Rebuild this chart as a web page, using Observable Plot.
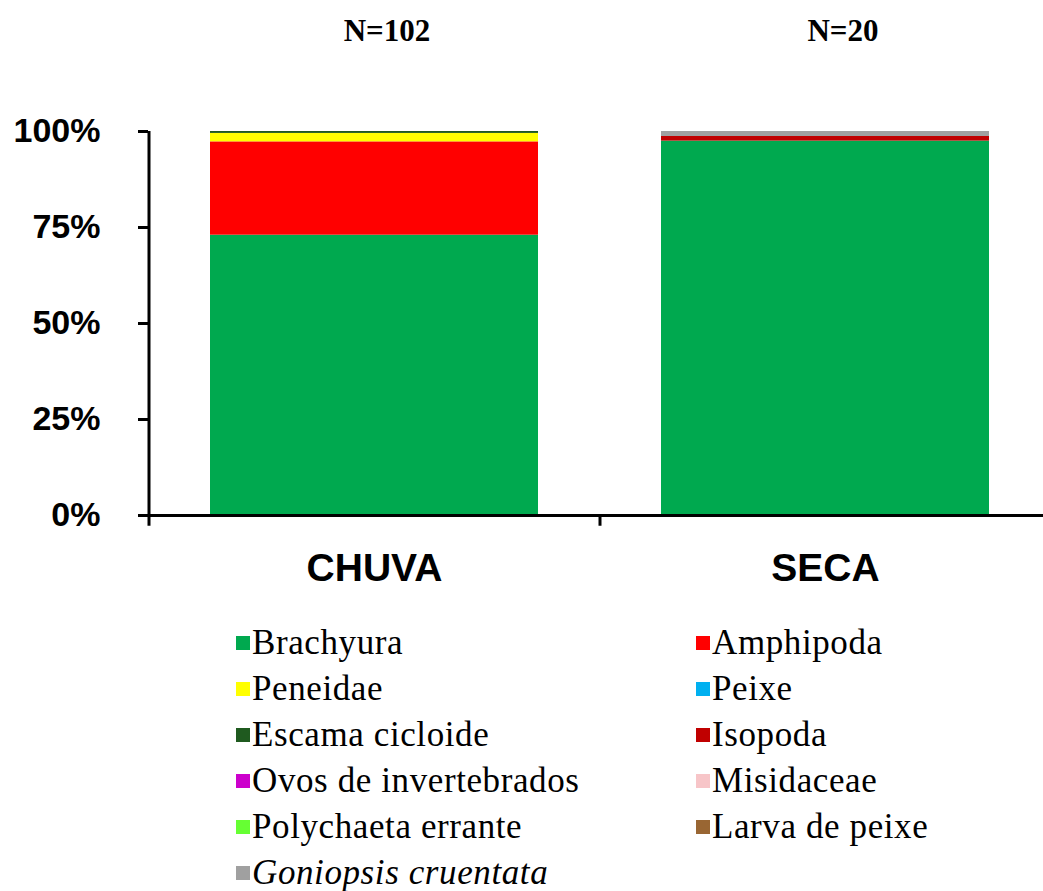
<!DOCTYPE html>
<html>
<head>
<meta charset="utf-8">
<script src="https://cdn.jsdelivr.net/npm/d3@7"></script>
<script src="https://cdn.jsdelivr.net/npm/@observablehq/plot@0.6"></script>
<style>
  body { margin: 0; background: #fff; }
  #wrap { position: relative; width: 1043px; height: 891px; overflow: hidden; }
  #chart { position: absolute; left: 0; top: 0; }
  .n { position: absolute; font: bold 31px "Liberation Serif", "Times New Roman", serif; transform: translate(-50%, -50%); white-space: nowrap; }
  .item { position: absolute; height: 46px; display: flex; align-items: center; font: 35px "Liberation Serif", "Times New Roman", serif; letter-spacing: 0.6px; color: #000; white-space: nowrap; }
  .sw { width: 14px; height: 14px; margin-right: 2px; flex: none; }
</style>
</head>
<body>
<div id="wrap"></div>
<script>
// Seasons and sample sizes
const seasons = ["CHUVA", "SECA"];
const sampleSizes = [102, 20];

// Prey items, in stacking / legend order
const taxa = [
  "Brachyura", "Amphipoda", "Peneidae", "Peixe", "Escama cicloide", "Isopoda",
  "Ovos de invertebrados", "Misidaceae", "Polychaeta errante", "Larva de peixe",
  "Goniopsis cruentata"
];
const taxaColors = [
  "#00a94f", "#ff0000", "#ffff00", "#00b0f0", "#1f5a1f", "#c00000",
  "#cc00cc", "#f7c5c8", "#66ff33", "#996633", "#a0a0a0"
];

// Relative frequency (%) of each prey item per season
const chuvaValues = [73.0, 24.3, 2.2, 0, 0.5, 0, 0, 0, 0, 0, 0];
const secaValues  = [97.5, 0, 0, 0, 0, 1.2, 0, 0, 0, 0, 1.3];

const yTicks = [0, 25, 50, 75, 100];

const rows = [];
[chuvaValues, secaValues].forEach((vals, s) => {
  vals.forEach((v, i) => rows.push({season: seasons[s], taxon: taxa[i], value: v}));
});

const step = (1050 - 148) / seasons.length;

const chart = Plot.plot({
  width: 1043,
  height: 610,
  marginTop: 131,
  marginBottom: 95,
  marginLeft: 148,
  marginRight: 0,
  style: {background: "transparent", overflow: "visible"},
  x: {domain: seasons, range: [148, 1050], paddingInner: 0.273, paddingOuter: 0.1365, label: null},
  y: {domain: [0, 100], label: null},
  color: {domain: taxa, range: taxaColors},
  marks: [
    Plot.barY(rows, {x: "season", y: "value", fill: "taxon", order: null}),
    Plot.ruleY([0], {stroke: "#000", strokeWidth: 3}),
    // axis line plus tick marks on the category boundaries
    Plot.ruleX(seasons, {x: d => d, dx: -step / 2, y1: -2.8, y2: (d, i) => i === 0 ? 100 : 0, stroke: "#000", strokeWidth: 3}),
    Plot.axisY({
      ticks: yTicks, tickFormat: d => d + "%", tickSize: 10, tickPadding: 38,
      strokeWidth: 3, fontSize: 34, fontWeight: "bold", label: null,
      fontFamily: "'Liberation Sans', Arial, sans-serif", fill: "#000"
    }),
    Plot.axisX({
      tickSize: 0, tickPadding: 38, fontSize: 39, fontWeight: "bold", label: null,
      fontFamily: "'Liberation Sans', Arial, sans-serif", fill: "#000"
    })
  ]
});
chart.id = "chart";

const wrap = document.getElementById("wrap");
wrap.appendChild(chart);

// N labels above each bar
const nPos = [[387, 31], [843, 31]];
sampleSizes.forEach((n, i) => {
  const d = document.createElement("div");
  d.className = "n";
  d.textContent = "N=" + n;
  d.style.left = nPos[i][0] + "px";
  d.style.top = nPos[i][1] + "px";
  wrap.appendChild(d);
});

// Two-column legend below the chart, colours taken from the color scale
const color = chart.scale("color");
const colorOf = new Map(color.domain.map((d, i) => [d, color.range[i]]));
taxa.forEach((t, idx) => {
  const row = Math.floor(idx / 2), col = idx % 2;
  const item = document.createElement("div");
  item.className = "item";
  item.style.left = (col === 0 ? 236 : 696) + "px";
  item.style.top = (620 + row * 46) + "px";
  const sw = document.createElement("span");
  sw.className = "sw";
  sw.style.background = colorOf.get(t);
  const label = document.createElement("span");
  label.textContent = t;
  if (t === "Goniopsis cruentata") label.style.fontStyle = "italic";
  item.append(sw, label);
  wrap.appendChild(item);
});
</script>
</body>
</html>
